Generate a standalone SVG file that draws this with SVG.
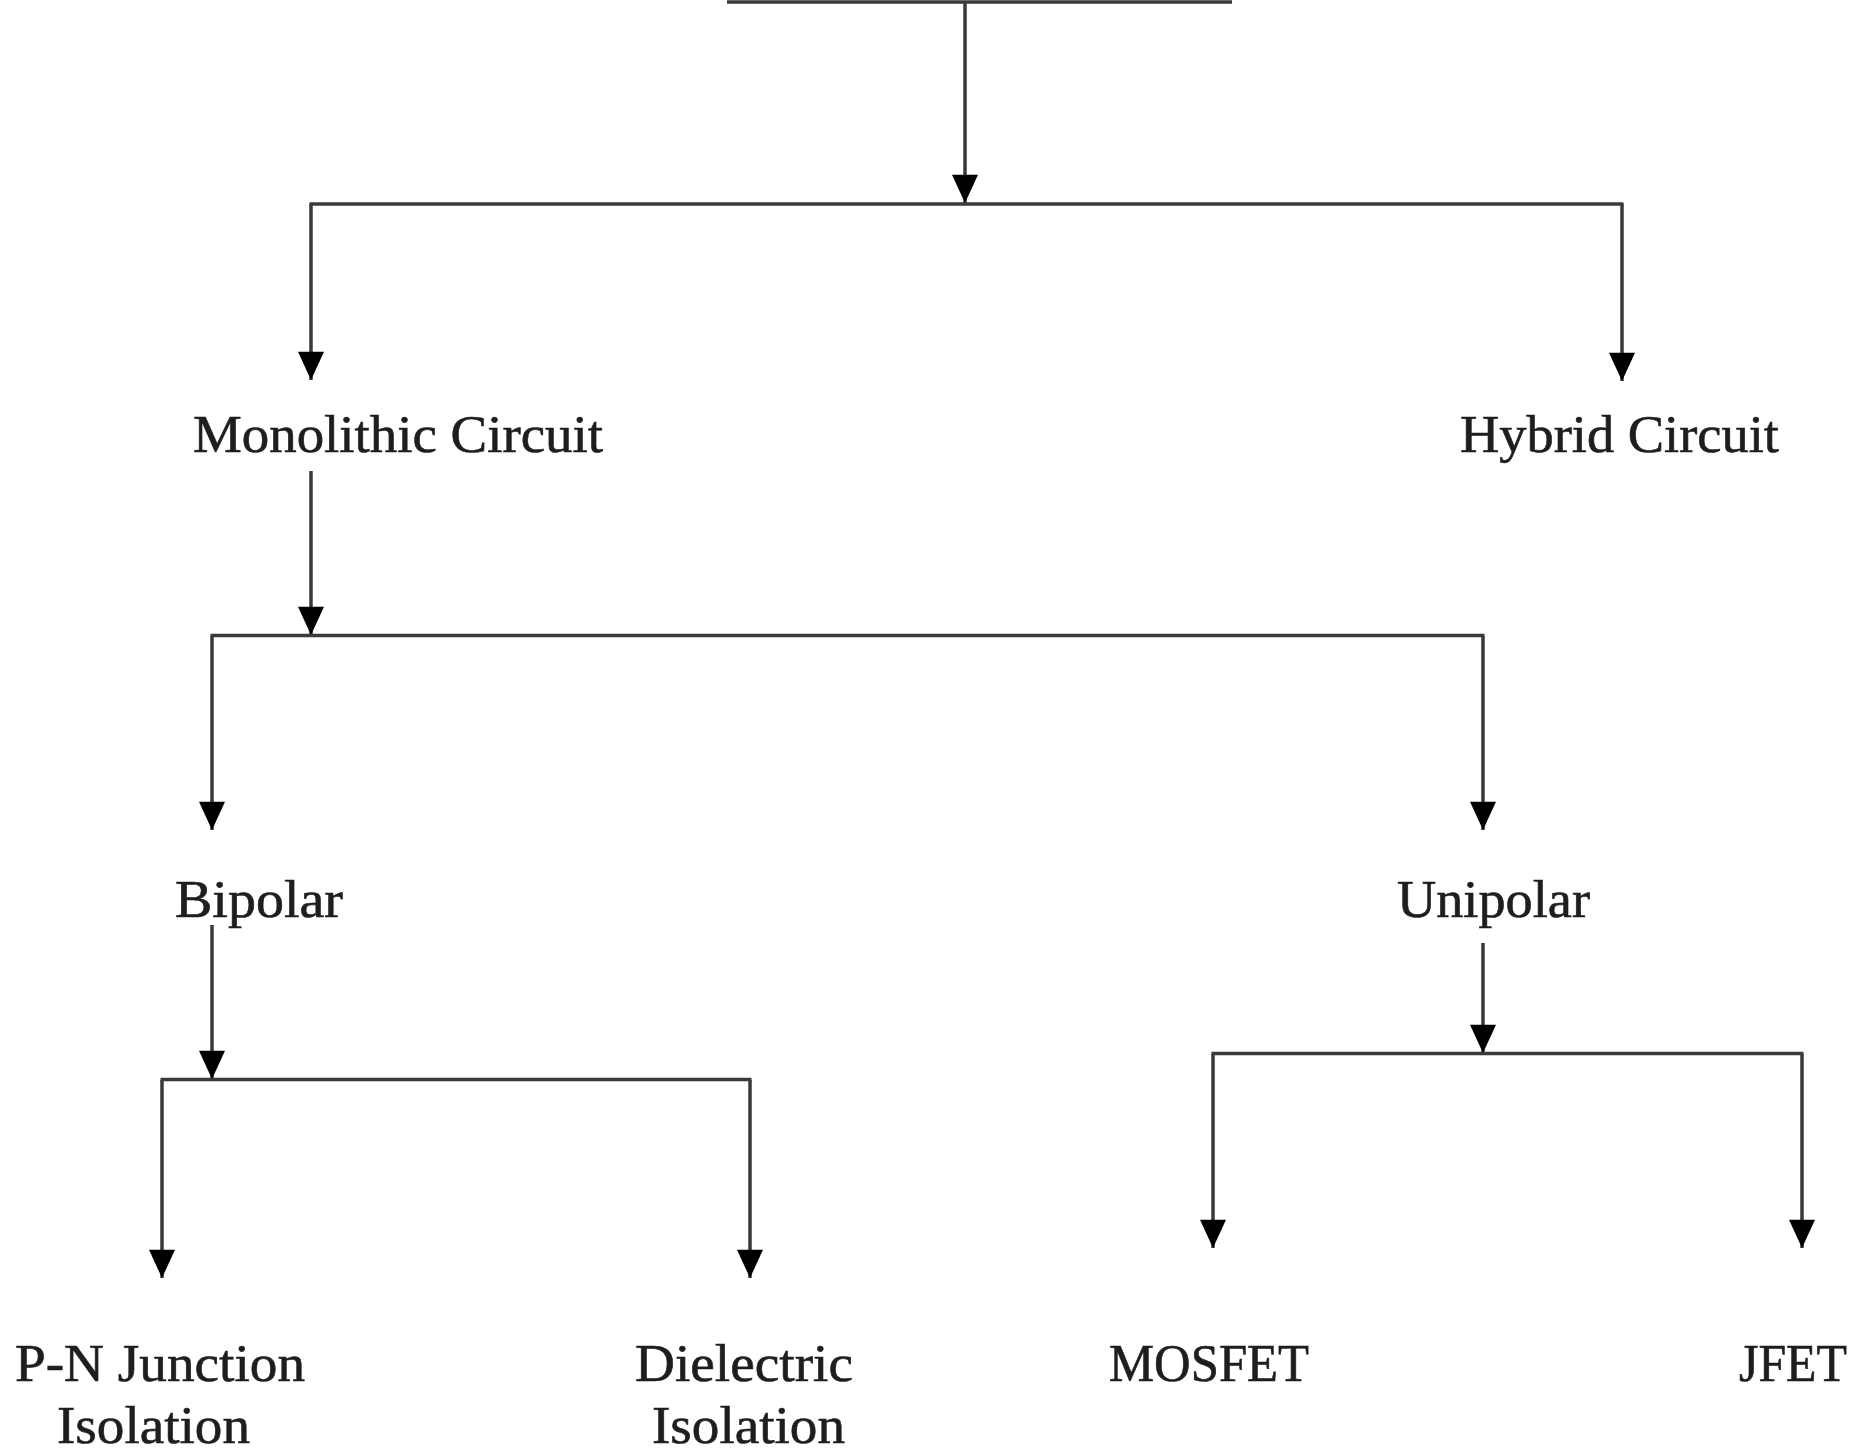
<svg xmlns="http://www.w3.org/2000/svg" width="1859" height="1453" viewBox="0 0 1859 1453">
<defs>
<style>
.t{font-family:'Liberation Serif','Times New Roman','DejaVu Serif',serif;font-size:52px;fill:#1e1e1e;stroke:#1e1e1e;stroke-width:0.6px;}
.c{stroke:#3a3a3a;stroke-width:3.5;fill:none;}
</style>
<marker id="ah" markerUnits="userSpaceOnUse" markerWidth="30" markerHeight="26" refX="26" refY="12" orient="auto" viewBox="0 0 26 24">
<path d="M0,0 L26,12 L0,24 z" fill="#000"/>
</marker>
</defs>
<rect width="1859" height="1453" fill="#fff"/>
<g id="connectors">
<line class="c" x1="727" y1="2" x2="1232" y2="2" stroke-width="4.5"/>
<line class="c" x1="965" y1="2" x2="965" y2="203" marker-end="url(#ah)"/>
<line class="c" x1="309.5" y1="204" x2="1623.5" y2="204"/>
<line class="c" x1="311" y1="204" x2="311" y2="380" marker-end="url(#ah)"/>
<line class="c" x1="1622" y1="204" x2="1622" y2="381" marker-end="url(#ah)"/>
<line class="c" x1="311" y1="471" x2="311" y2="635" marker-end="url(#ah)"/>
<line class="c" x1="210.5" y1="635.5" x2="1484.5" y2="635.5"/>
<line class="c" x1="212" y1="636" x2="212" y2="830" marker-end="url(#ah)"/>
<line class="c" x1="1483" y1="636" x2="1483" y2="830" marker-end="url(#ah)"/>
<line class="c" x1="212" y1="925" x2="212" y2="1079" marker-end="url(#ah)"/>
<line class="c" x1="160.5" y1="1079.5" x2="751.5" y2="1079.5"/>
<line class="c" x1="162" y1="1080" x2="162" y2="1278" marker-end="url(#ah)"/>
<line class="c" x1="750" y1="1080" x2="750" y2="1278" marker-end="url(#ah)"/>
<line class="c" x1="1483" y1="943" x2="1483" y2="1053" marker-end="url(#ah)"/>
<line class="c" x1="1211.5" y1="1053.5" x2="1803.5" y2="1053.5"/>
<line class="c" x1="1213" y1="1054" x2="1213" y2="1248" marker-end="url(#ah)"/>
<line class="c" x1="1802" y1="1054" x2="1802" y2="1248" marker-end="url(#ah)"/>
</g>
<g id="monolithic"><text class="t" x="193" y="452" textLength="410" lengthAdjust="spacingAndGlyphs">Monolithic Circuit</text></g>
<g id="hybrid"><text class="t" x="1460" y="452" textLength="319" lengthAdjust="spacingAndGlyphs">Hybrid Circuit</text></g>
<g id="bipolar"><text class="t" x="175" y="917" textLength="168" lengthAdjust="spacingAndGlyphs">Bipolar</text></g>
<g id="unipolar"><text class="t" x="1397" y="917" textLength="193" lengthAdjust="spacingAndGlyphs">Unipolar</text></g>
<g id="pn-junction">
<text class="t" x="15" y="1381" textLength="290" lengthAdjust="spacingAndGlyphs">P-N Junction</text>
<text class="t" x="57" y="1443" textLength="193" lengthAdjust="spacingAndGlyphs">Isolation</text>
</g>
<g id="dielectric">
<text class="t" x="635" y="1381" textLength="218" lengthAdjust="spacingAndGlyphs">Dielectric</text>
<text class="t" x="652" y="1443" textLength="193" lengthAdjust="spacingAndGlyphs">Isolation</text>
</g>
<g id="mosfet"><text class="t" x="1109" y="1381" textLength="200" lengthAdjust="spacingAndGlyphs">MOSFET</text></g>
<g id="jfet"><text class="t" x="1739" y="1381" textLength="108" lengthAdjust="spacingAndGlyphs">JFET</text></g>
</svg>
